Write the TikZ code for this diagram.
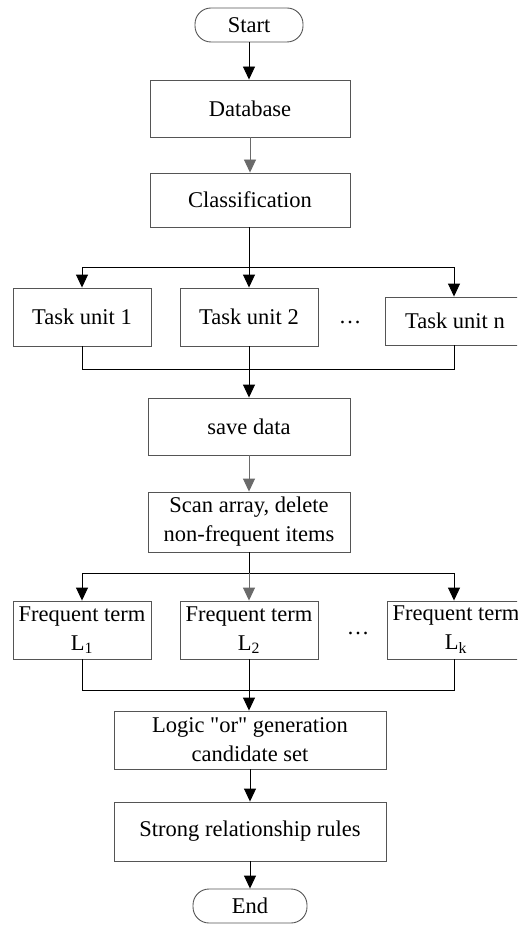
\documentclass[tikz,border=0pt]{standalone}
\usepackage{fontspec}
\setmainfont{Liberation Serif}
\usetikzlibrary{arrows.meta}
\definecolor{boxline}{HTML}{555555}
\definecolor{grayarrow}{HTML}{6A6A6A}
\begin{document}
\begin{tikzpicture}[x=1pt,y=-1pt,
  every node/.style={font=\fontsize{22.5}{29}\selectfont, inner sep=0pt, align=center},
  box/.style={draw=boxline, line width=0.9pt, rectangle},
  pill/.style={draw=boxline, line width=0.9pt, rectangle, rounded corners=16pt},
  conn/.style={line width=0.9pt, draw=black},
  arr/.style={conn, -{Triangle[length=13pt,width=12pt]}},
  garr/.style={line width=0.9pt, draw=grayarrow, -{Triangle[length=13pt,width=12pt]}, color=grayarrow}
]
\clip (0,0) rectangle (517,925);
\fill[white] (0,0) rectangle (517,925);
% nodes
\node[pill, minimum width=108pt, minimum height=34pt] (start) at (249,25) {Start};
\node[box, minimum width=200pt, minimum height=57pt] (db) at (250,108.5) {Database};
\node[box, minimum width=200pt, minimum height=54pt] (cls) at (250,200) {Classification};
\node[box, minimum width=138pt, minimum height=58pt] (t1) at (82,317) {Task unit 1};
\node[box, minimum width=138pt, minimum height=58pt] (t2) at (249,317) {Task unit 2};
\node[box, minimum width=140pt, minimum height=48pt] (tn) at (455,321) {Task unit n};
\node (dots1) at (350,322) {\dots};
\node[box, minimum width=202pt, minimum height=57pt] (save) at (249,426.5) {save data};
\node[box, minimum width=202pt, minimum height=60pt] (scan) at (249,522) {Scan array, delete\\non-frequent items};
\node[box, minimum width=138pt, minimum height=58pt] (f1) at (82,630) {Frequent term\\L\textsubscript{1}};
\node[box, minimum width=138pt, minimum height=58pt] (f2) at (249,630) {Frequent term\\L\textsubscript{2}};
\node[box, minimum width=138pt, minimum height=58pt] (fk) at (456,630) {Frequent term\\L\textsubscript{k}};
\node (dots2) at (358,633) {\dots};
\node[box, minimum width=272pt, minimum height=58pt] (logic) at (250,740) {Logic \textquotedbl or\textquotedbl{} generation\\candidate set};
\node[box, minimum width=272pt, minimum height=59pt] (strong) at (250,831.5) {Strong relationship rules};
\node[pill, minimum width=114pt, minimum height=34pt] (end) at (250,906) {End};
% coordinates
\coordinate (s1) at (249,267);
\coordinate (s1l) at (82,267);
\coordinate (s1r) at (454,267);
\coordinate (m1) at (249,369);
\coordinate (s2) at (249,573);
\coordinate (s2l) at (82,573);
\coordinate (s2r) at (454,573);
\coordinate (m2) at (249,690);
% connectors
\draw[arr] (start) -- (start |- db.north);
\draw[garr] (db) -- (db |- cls.north);
\draw[conn] (cls.south -| s1) -- (s1);
\draw[conn] (s1l) -- (s1r);
\draw[arr] (s1l) -- (t1.north);
\draw[arr] (s1) -- (t2.north);
\draw[arr] (s1r) -- (s1r |- tn.north);
\draw[conn] (t1.south) |- (m1);
\draw[conn] (tn.south -| s1r) |- (m1);
\draw[arr] (t2.south) -- (save.north -| t2);
\draw[garr] (save) -- (scan);
\draw[conn] (scan.south) -- (s2);
\draw[conn] (s2l) -- (s2r);
\draw[arr] (s2l) -- (f1.north);
\draw[garr] (s2) -- (f2.north);
\draw[arr] (s2r) -- (s2r |- fk.north);
\draw[conn] (f1.south) |- (m2);
\draw[conn] (fk.south -| s2r) |- (m2);
\draw[arr] (f2.south) -- (logic.north -| f2);
\draw[arr] (logic) -- (strong);
\draw[arr] (strong) -- (end);
\end{tikzpicture}
\end{document}
